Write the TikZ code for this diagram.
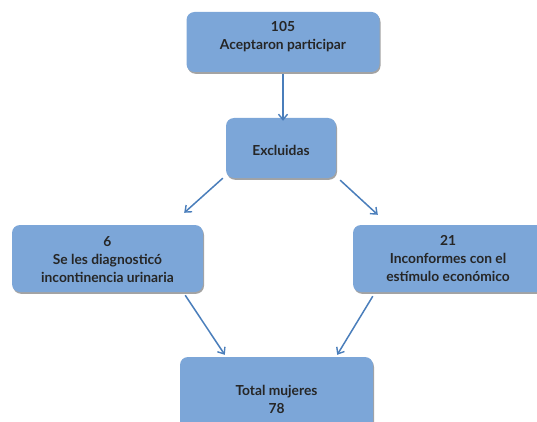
\documentclass[tikz,border=0pt]{standalone}
\usepackage{fontspec}
\setmainfont{Lato}
\usetikzlibrary{calc,arrows.meta,shadows}
\definecolor{boxfill}{RGB}{124,166,216}
\definecolor{arrowblue}{RGB}{74,126,187}
\definecolor{txt}{RGB}{38,38,38}
\begin{document}
\begin{tikzpicture}[x=1pt,y=1pt,
  box/.style={draw=none,fill=boxfill,rounded corners=8pt,inner sep=0pt,
    drop shadow={shadow xshift=1pt,shadow yshift=-1.8pt,fill=black!45,opacity=0.8}},
  lbl/.style={text=txt,font=\fontsize{13.8}{18}\selectfont\bfseries,align=center,inner sep=0pt},
  conn/.style={draw=arrowblue,line width=1.5pt,-{Straight Barb[length=5.5pt,width=9pt,line width=1.4pt]}}]
\useasboundingbox (0,0) rectangle (537,-422);
\clip (0,0) rectangle (537,-422);
\node[box,minimum width=193,minimum height=60] (top) at (283,-42) {};
\node[lbl] (ttop) at (283,-37) {105\\Aceptaron participar};
\node[box,minimum width=110,minimum height=60] (excl) at (281,-148) {};
\node[lbl] (texcl) at (281,-150) {Excluidas};
\node[box,minimum width=191,minimum height=67] (left) at (107.5,-258.5) {};
\node[lbl] (tleft) at (107.5,-260) {6\\Se les diagnosticó\\incontinencia urinaria};
\node[box,minimum width=193,minimum height=67] (right) at (449.5,-258.5) {};
\node[lbl] (tright) at (448,-259) {21\\Inconformes con el\\estímulo económico};
\node[box,minimum width=193,minimum height=80] (bot) at (276.5,-397) {};
\node[lbl] (tbot) at (276.5,-399) {Total mujeres\\78};
\draw[conn] ($(top.south)+(0,-2)$) -- ($(top.south |- excl.north)+(0,-3)$);
\draw[conn] ($(excl.south west)+(-3,0)$) -- ($(left.north east)+(-19,12)$);
\draw[conn] ($(excl.south east)+(4,-2)$) -- ($(right.north west)+(25,10)$);
\draw[conn] ($(left.south east)+(-18,-3)$) -- ($(bot.north west)+(45,2)$);
\draw[conn] ($(right.south west)+(20,-4)$) -- ($(bot.north east)+(-36,2)$);
\end{tikzpicture}
\end{document}
